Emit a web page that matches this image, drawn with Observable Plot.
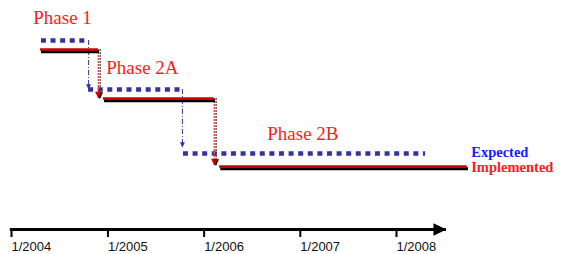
<!DOCTYPE html>
<html><head><meta charset="utf-8">
<script src="https://cdn.jsdelivr.net/npm/d3@7"></script>
<script src="https://cdn.jsdelivr.net/npm/@observablehq/plot@0.6"></script>
<style>body{margin:0;background:#fff}</style>
</head><body><div id="chart"></div>
<script>
// ---- data ----
const phases = ["Phase 1", "Phase 2A", "Phase 2B"];
const expectedStart = ["2004-04-16", "2004-10-12", "2005-10-07"];
const expectedEnd   = ["2004-10-12", "2005-10-03", "2008-04-13"];
const expectedLevel = [10.0, 7.41, 4.02];
const expectedArrowTip = [7.41, 4.34];
const implementedStart = ["2004-04-12", "2004-12-07", "2006-02-21"];
const implementedEnd   = ["2004-11-18", "2006-02-01", "2008-09-18"];
const implementedLevel = [9.52, 6.93, 3.33];
const implementedArrowTip = [6.93, 3.39];
const phaseLabelDate  = ["2004-03-16", "2004-12-18", "2006-08-21"];
const phaseLabelLevel = [10.85, 8.25, 4.76];
const legendNames = ["Expected", "Implemented"];
const legendDate = ["2008-10-03", "2008-10-03"];
const legendLevel = [3.86, 3.02];
const tickDates  = ["2004-01-01", "2005-01-01", "2006-01-01", "2007-01-01", "2008-01-01"];
const tickLabels = ["1/2004", "1/2005", "1/2006", "1/2007", "1/2008"];
const axisStart = "2003-12-20";
const axisEnd = "2008-07-01";

// ---- build ----
const P = d3.utcParse("%Y-%m-%d");
const idx = d3.range(phases.length);
const cidx = d3.range(phases.length - 1);
const navy = "#33339a", red = "#cc0000";

const rightTri = {draw(ctx, size) {
  const r = Math.sqrt(size / Math.PI);
  ctx.moveTo(0, 0); ctx.lineTo(-2 * r, -0.95 * r); ctx.lineTo(-2 * r, 0.95 * r); ctx.closePath();
}};

const chart = Plot.plot({
  width: 565, height: 254,
  marginTop: 40, marginBottom: 25, marginLeft: 0, marginRight: 0,
  x: {type: "utc", domain: [P("2004-01-01"), P("2008-01-01")], range: [13, 398]},
  y: {domain: [0, 10], axis: null},
  style: {fontFamily: "Liberation Sans", fontSize: "13px", background: "#fff", overflow: "visible"},
  marks: [
    // time axis
    Plot.ruleY([0], {x1: P(axisStart), x2: P(axisEnd), stroke: "black", strokeWidth: 3}),
    Plot.dot([P(axisEnd)], {x: d => d, y: 0, symbol: rightTri, r: 6.5, fill: "black", stroke: "none"}),
    Plot.axisX(tickDates.map(P), {anchor: "bottom", tickSize: 8, tickPadding: 4, strokeWidth: 2, stroke: "black",
      tickFormat: (d, i) => tickLabels[i], textAnchor: "start", dx: -2, fontSize: 13, fill: "#111"}),

    // expected (blue dotted)
    Plot.ruleX(cidx, {x: i => P(expectedEnd[i]), y1: i => expectedLevel[i], y2: i => expectedArrowTip[i],
      stroke: navy, strokeWidth: 1, strokeDasharray: "5,2,1,2"}),
    Plot.dot(cidx, {x: i => P(expectedEnd[i]), y: i => expectedArrowTip[i], symbol: rightTri, rotate: 90, r: 2.6, fill: navy, stroke: "none"}),
    Plot.ruleY(idx, {y: i => expectedLevel[i], x1: i => P(expectedStart[i]), x2: i => P(expectedEnd[i]),
      stroke: navy, strokeWidth: 4.5, strokeDasharray: "5,4.6"}),

    // implemented (red with black shadow)
    Plot.ruleX(cidx, {x: i => P(implementedEnd[i]), y1: i => implementedLevel[i], y2: i => implementedArrowTip[i],
      stroke: "#333", strokeWidth: 1.2, strokeDasharray: "2,1", dx: 1.8}),
    Plot.ruleX(cidx, {x: i => P(implementedEnd[i]), y1: i => implementedLevel[i], y2: i => implementedArrowTip[i],
      stroke: "#e85050", strokeWidth: 1.5, strokeDasharray: "2,1"}),
    Plot.dot(cidx, {x: i => P(implementedEnd[i]), y: i => implementedArrowTip[i], symbol: rightTri, rotate: 90, r: 3.4, fill: "black", stroke: "none", dx: 1.5, dy: 0.5}),
    Plot.dot(cidx, {x: i => P(implementedEnd[i]), y: i => implementedArrowTip[i], symbol: rightTri, rotate: 90, r: 3.4, fill: red, stroke: "none"}),
    Plot.ruleY(idx, {y: i => implementedLevel[i], x1: i => P(implementedStart[i]), x2: i => P(implementedEnd[i]),
      stroke: "black", strokeWidth: 3, dy: 2.2, dx: 1.2}),
    Plot.ruleY(idx, {y: i => implementedLevel[i], x1: i => P(implementedStart[i]), x2: i => P(implementedEnd[i]),
      stroke: red, strokeWidth: 2.6}),

    // phase labels
    Plot.text(idx, {x: i => P(phaseLabelDate[i]), y: i => phaseLabelLevel[i], text: i => phases[i],
      textAnchor: "start", lineAnchor: "bottom", fontFamily: "Liberation Serif", fontSize: 19, fill: "#ff1a1a"}),
    // legend labels
    Plot.text([0, 1], {x: i => P(legendDate[i]), y: i => legendLevel[i], text: i => legendNames[i],
      textAnchor: "start", lineAnchor: "bottom", fontFamily: "Liberation Serif", fontWeight: "bold", fontSize: 14.5,
      fill: i => i === 0 ? "#1a1aff" : "#ff1a1a"})
  ]
});
document.getElementById("chart").append(chart);
</script>
</body></html>
